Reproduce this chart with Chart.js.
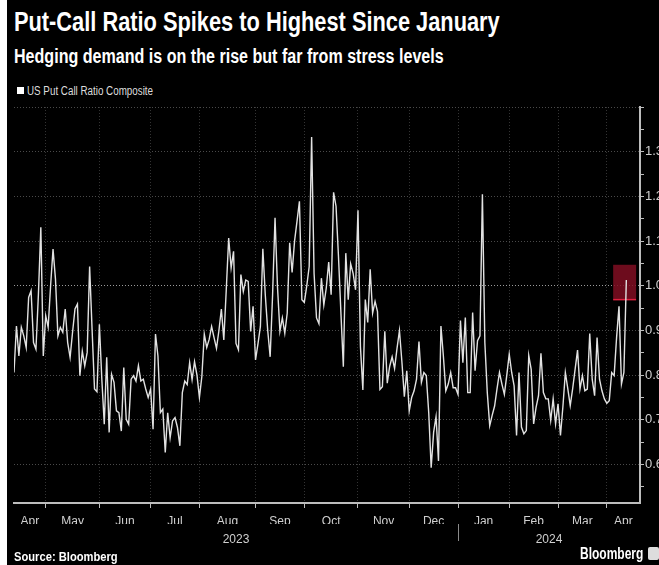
<!DOCTYPE html>
<html>
<head>
<meta charset="utf-8">
<script src="https://cdn.jsdelivr.net/npm/chart.js@4.4.1/dist/chart.umd.min.js"></script>
<style>
  html, body { margin: 0; padding: 0; }
  body { width: 659px; height: 565px; background: #000; position: relative; overflow: hidden;
         font-family: "Liberation Sans", Arial, sans-serif; }
  #edge { position: absolute; left: 0; top: 0; width: 7px; height: 565px; background: #fff; }
  .fit { position: absolute; white-space: nowrap; transform-origin: 0 0; }
  #title { left: 14px; top: 7px; color: #fff; font-weight: bold; font-size: 27px; }
  #subtitle { left: 14px; top: 45px; color: #fff; font-weight: bold; font-size: 20px; }
  #legendBox { position: absolute; left: 17px; top: 87px; width: 7px; height: 7px; background: #fff; }
  #legend { left: 27px; top: 84px; color: #ddd; font-size: 12px; }
  #source { left: 14px; top: 549px; color: #fff; font-weight: bold; font-size: 13px; }
  #brand { left: 580px; top: 545px; color: #fff; font-weight: bold; font-size: 16px; }
  #logo { position: absolute; left: 648px; top: 547px; width: 11px; height: 13px; background: #ddd; border-radius: 2px; }
  canvas { position: absolute; left: 0; top: 0; }
</style>
</head>
<body>
<div id="title" class="fit" data-w="486">Put-Call Ratio Spikes to Highest Since January</div>
<div id="subtitle" class="fit" data-w="430">Hedging demand is on the rise but far from stress levels</div>
<div id="legendBox"></div>
<div id="legend" class="fit" data-w="126">US Put Call Ratio Composite</div>
<canvas id="chart" width="659" height="565"></canvas>
<div id="edge"></div>
<div id="source" class="fit" data-w="104">Source: Bloomberg</div>
<div id="brand" class="fit" data-w="63">Bloomberg</div>
<div id="logo"></div>
<script>
// trading calendar of the series
const startDate = "2023-04-12";
const endDate = "2024-04-11";
const marketHolidays = ["2023-05-29", "2023-06-19", "2023-07-04", "2023-09-04", "2023-11-23",
  "2023-12-25", "2024-01-01", "2024-01-15", "2024-02-19", "2024-03-29"];
const monthNames = ["Jan", "Feb", "Mar", "Apr", "May", "Jun", "Jul", "Aug", "Sep", "Oct", "Nov", "Dec"];

// US put/call ratio composite, one value per trading day
const putCallRatio = [
  0.806, 0.910, 0.843, 0.907, 0.888, 0.862, 0.974, 0.989, 0.873, 0.858,
  0.980, 1.131, 0.843, 0.933, 0.907, 1.000, 1.082, 1.015, 0.888, 0.907,
  0.896, 0.948, 0.873, 0.840, 0.896, 0.948, 0.959, 0.799, 0.854, 0.821,
  0.851, 1.043, 0.903, 0.769, 0.763, 0.914, 0.791, 0.690, 0.840, 0.672,
  0.802, 0.784, 0.720, 0.716, 0.675, 0.817, 0.701, 0.690, 0.791, 0.799,
  0.787, 0.821, 0.787, 0.791, 0.769, 0.750, 0.769, 0.679, 0.892, 0.843,
  0.716, 0.724, 0.627, 0.716, 0.660, 0.698, 0.705, 0.683, 0.642, 0.761,
  0.787, 0.779, 0.828, 0.790, 0.830, 0.800, 0.750, 0.797, 0.892, 0.862,
  0.880, 0.909, 0.884, 0.860, 0.900, 0.948, 0.879, 0.990, 1.107, 1.040,
  1.077, 0.871, 0.857, 1.025, 0.987, 1.013, 1.010, 0.898, 0.954, 0.834,
  0.870, 0.909, 1.083, 0.980, 0.900, 0.841, 0.980, 1.152, 0.998, 0.898,
  0.928, 0.894, 0.939, 1.096, 1.030, 1.100, 1.144, 1.189, 0.969, 0.963,
  1.000, 1.043, 1.333, 1.028, 0.928, 0.915, 1.017, 0.957, 0.995, 1.053,
  0.980, 1.209, 1.178, 1.066, 0.940, 0.819, 1.073, 0.969, 1.049, 1.028,
  0.991, 1.169, 0.864, 0.767, 0.969, 0.918, 1.037, 0.939, 0.965, 0.942,
  0.768, 0.774, 0.898, 0.782, 0.820, 0.841, 0.815, 0.860, 0.900, 0.830,
  0.752, 0.810, 0.720, 0.750, 0.765, 0.791, 0.875, 0.784, 0.806, 0.799,
  0.716, 0.593, 0.672, 0.707, 0.608, 0.910, 0.843, 0.765, 0.780, 0.806,
  0.772, 0.772, 0.757, 0.922, 0.828, 0.929, 0.761, 0.761, 0.940, 0.810,
  0.877, 0.888, 1.205, 0.873, 0.761, 0.687, 0.710, 0.731, 0.770, 0.806,
  0.780, 0.757, 0.800, 0.847, 0.806, 0.776, 0.665, 0.806, 0.684, 0.669,
  0.676, 0.844, 0.813, 0.691, 0.728, 0.754, 0.849, 0.761, 0.747, 0.747,
  0.699, 0.747, 0.691, 0.736, 0.665, 0.730, 0.806, 0.770, 0.732, 0.770,
  0.813, 0.856, 0.769, 0.799, 0.765, 0.769, 0.893, 0.791, 0.754, 0.884,
  0.791, 0.765, 0.747, 0.737, 0.743, 0.806, 0.799, 0.884, 0.954, 0.780,
  0.806, 1.013
];

// right axis ticks (labelled every 0.1, minor marks every 0.05)
const yTickValues = [0.55, 0.6, 0.65, 0.7, 0.75, 0.8, 0.85, 0.9, 0.95, 1.0, 1.05, 1.1, 1.15, 1.2, 1.25, 1.3, 1.35, 1.4];
const yLabelled = [0.6, 0.7, 0.8, 0.9, 1.0, 1.1, 1.2, 1.3];
const yMin = 0.514;
const yMax = 1.4;

// highlighted latest reading (data units: trading-day index / ratio)
const highlight = { from: 245.6, to: 255.0, low: 0.969, high: 1.047 };

// squeeze header/footer text to the narrow Bloomberg widths
document.querySelectorAll(".fit").forEach(el => {
  const w = +el.dataset.w;
  el.style.transform = "scaleX(" + (w / el.offsetWidth) + ")";
});

function buildTradingDays(start, end, holidays) {
  const out = [];
  const d = new Date(start + "T00:00:00Z");
  const last = new Date(end + "T00:00:00Z");
  while (d <= last) {
    const iso = d.toISOString().slice(0, 10);
    const wd = d.getUTCDay();
    if (wd !== 0 && wd !== 6 && !holidays.includes(iso)) out.push(new Date(d));
    d.setUTCDate(d.getUTCDate() + 1);
  }
  return out;
}

const tradingDays = buildTradingDays(startDate, endDate, marketHolidays);
const monthStarts = [];
tradingDays.forEach((d, i) => {
  if (i > 0 && d.getUTCMonth() !== tradingDays[i - 1].getUTCMonth()) monthStarts.push(i);
});
const xMax = putCallRatio.length - 1 + 5.6;
const bounds = [0, ...monthStarts, xMax];
const monthTicks = bounds.slice(0, -1).map((b, i) => ({
  value: (b + bounds[i + 1]) / 2,
  label: monthNames[tradingDays[b].getUTCMonth()]
}));
const yearStart = monthStarts.find(i => tradingDays[i].getUTCMonth() === 0);
const yearTicks = [
  { value: yearStart / 2, label: String(tradingDays[0].getUTCFullYear()) },
  { value: (yearStart + xMax) / 2, label: String(tradingDays[yearStart].getUTCFullYear()) }
];

const FONT = '"Liberation Sans Narrow", "Liberation Sans", Arial, sans-serif';
const AXIS = "#bdbdbd";

const overlay = {
  id: "overlay",
  beforeDatasetsDraw(chart) {
    const { ctx, scales: { x, y } } = chart;
    const x0 = x.getPixelForValue(highlight.from), x1 = x.getPixelForValue(highlight.to);
    const y0 = y.getPixelForValue(highlight.high), y1 = y.getPixelForValue(highlight.low);
    ctx.save();
    ctx.fillStyle = "rgba(128, 14, 34, 0.85)";
    ctx.fillRect(x0, y0, x1 - x0, y1 - y0);
    ctx.strokeStyle = "#e0203f";
    ctx.lineWidth = 1.5;
    ctx.beginPath();
    ctx.moveTo(x0, y1);
    ctx.lineTo(x1, y1);
    ctx.stroke();
    ctx.restore();
  },
  afterDraw(chart) {
    const { ctx, scales } = chart;
    const px = Math.round(scales.x.getPixelForValue(yearStart)) + 0.5;
    ctx.save();
    ctx.strokeStyle = "#8a8a8a";
    ctx.lineWidth = 1;
    ctx.beginPath();
    ctx.moveTo(px, scales.xy.top);
    ctx.lineTo(px, scales.xy.bottom - 2);
    ctx.stroke();
    ctx.restore();
  }
};

new Chart(document.getElementById("chart"), {
  type: "line",
  data: {
    datasets: [{
      label: "US Put Call Ratio Composite",
      data: putCallRatio.map((v, i) => ({ x: i, y: v })),
      borderColor: "#e2e2e2",
      borderWidth: 1.4,
      pointRadius: 0,
      tension: 0,
      xAxisID: "x",
      yAxisID: "y"
    }]
  },
  options: {
    responsive: false,
    animation: false,
    devicePixelRatio: 1,
    layout: { padding: { left: 14, top: 107, right: 0, bottom: 22 } },
    plugins: { legend: { display: false }, tooltip: { enabled: false } },
    scales: {
      x: {
        type: "linear", axis: "x", position: "bottom", min: 0, max: xMax,
        afterBuildTicks: s => { s.ticks = monthStarts.map(v => ({ value: v })); },
        ticks: { display: false },
        grid: { color: "#333", lineWidth: 1, drawTicks: true, tickLength: 5, tickColor: AXIS, tickWidth: 1 },
        border: { display: true, color: AXIS, width: 2, dash: [1, 2] },
        afterFit: s => { s.height = 5; }
      },
      xm: {
        type: "linear", axis: "x", position: "bottom", min: 0, max: xMax,
        afterBuildTicks: s => { s.ticks = monthTicks.map(t => ({ value: t.value })); },
        ticks: {
          color: "#d0d0d0", padding: -2, maxRotation: 0, autoSkip: false,
          font: { family: FONT, size: 12 },
          callback: (v, i) => monthTicks[i] ? monthTicks[i].label : ""
        },
        grid: { display: false },
        border: { display: false },
        afterFit: s => { s.height = 16; }
      },
      xy: {
        type: "linear", axis: "x", position: "bottom", min: 0, max: xMax,
        afterBuildTicks: s => { s.ticks = yearTicks.map(t => ({ value: t.value })); },
        ticks: {
          color: "#d0d0d0", padding: 0, maxRotation: 0, autoSkip: false,
          font: { family: FONT, size: 12 },
          callback: (v, i) => yearTicks[i] ? yearTicks[i].label : ""
        },
        grid: { display: false },
        border: { display: false },
        afterFit: s => { s.height = 19; }
      },
      y: {
        type: "linear", position: "right", min: yMin, max: yMax,
        afterBuildTicks: s => { s.ticks = yTickValues.map(v => ({ value: v })); },
        ticks: {
          color: "#d0d0d0", padding: 1, autoSkip: false,
          font: { family: FONT, size: 13 },
          callback: v => yLabelled.some(l => Math.abs(l - v) < 1e-6) ? v.toFixed(1) : ""
        },
        grid: {
          color: c => {
            const v = c.tick ? c.tick.value : 0;
            if (Math.abs(v - 1.0) < 1e-6) return "#9a9a9a";
            return Math.abs(Math.round(v * 10) - v * 10) < 1e-6 ? "#4a4a4a" : "rgba(0,0,0,0)";
          },
          lineWidth: 1, tickLength: 4, tickColor: AXIS, tickWidth: 1
        },
        border: { display: true, color: AXIS, width: 2, dash: [1, 2] },
        afterFit: s => { s.width = 19; }
      }
    }
  },
  plugins: [overlay]
});
</script>
</body>
</html>
